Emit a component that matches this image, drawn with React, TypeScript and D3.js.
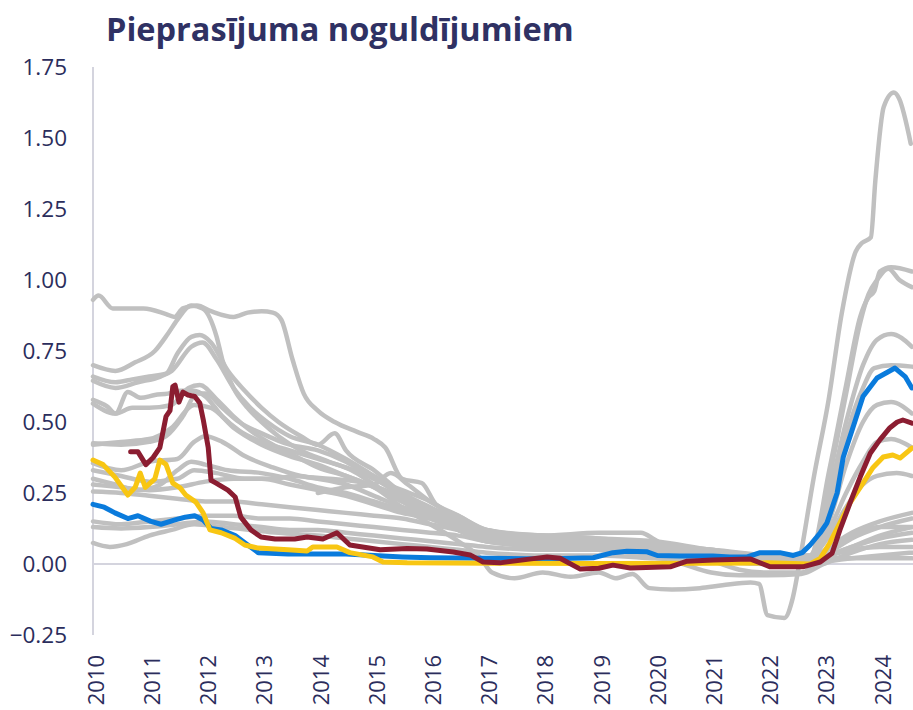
import React from "react";
import * as d3 from "d3";

type P = [number, number];

const title = "Pieprasījuma noguldījumiem";
const yearTicks = d3.range(2010, 2025);
const yTicks = [-0.25, 0, 0.25, 0.5, 0.75, 1, 1.25, 1.5, 1.75];

// highlighted series [decimal year, value]
const blueSeries: P[] = [
  [2010.0, 0.21], [2010.2, 0.2], [2010.39, 0.18], [2010.62, 0.16], [2010.8, 0.17], [2011.03, 0.15],
  [2011.21, 0.14], [2011.46, 0.155], [2011.64, 0.165], [2011.81, 0.17], [2011.96, 0.155], [2012.1, 0.125],
  [2012.28, 0.12], [2012.53, 0.1], [2012.7, 0.075], [2012.94, 0.04], [2013.47, 0.035], [2013.83, 0.035],
  [2014.5, 0.035], [2015.0, 0.03], [2015.5, 0.025], [2016.0, 0.022], [2017.0, 0.02], [2018.0, 0.018],
  [2018.9, 0.022], [2019.25, 0.04], [2019.5, 0.045], [2019.86, 0.043], [2020.04, 0.03], [2020.44, 0.028],
  [2021.03, 0.028], [2021.33, 0.025], [2021.64, 0.025], [2021.87, 0.04], [2022.22, 0.04], [2022.46, 0.03],
  [2022.62, 0.04], [2022.76, 0.067], [2022.94, 0.11], [2023.06, 0.145], [2023.24, 0.25], [2023.35, 0.377],
  [2023.52, 0.48], [2023.7, 0.59], [2023.95, 0.655], [2024.27, 0.69], [2024.45, 0.66], [2024.57, 0.62],
];

const redSeries: P[] = [
  [2010.67, 0.395], [2010.8, 0.395], [2010.94, 0.35], [2011.07, 0.375], [2011.19, 0.41], [2011.3, 0.52],
  [2011.37, 0.54], [2011.42, 0.625], [2011.46, 0.63], [2011.53, 0.57], [2011.6, 0.605], [2011.69, 0.595],
  [2011.81, 0.59], [2011.9, 0.567], [2011.96, 0.51], [2012.05, 0.41], [2012.1, 0.295], [2012.19, 0.285],
  [2012.4, 0.26], [2012.53, 0.236], [2012.63, 0.165], [2012.81, 0.12], [2012.99, 0.095], [2013.24, 0.088],
  [2013.59, 0.088], [2013.81, 0.095], [2014.09, 0.088], [2014.34, 0.11], [2014.57, 0.067], [2015.11, 0.05],
  [2015.59, 0.055], [2015.94, 0.053], [2016.41, 0.042], [2016.71, 0.032], [2016.94, 0.007], [2017.24, 0.004],
  [2017.8, 0.018], [2018.08, 0.025], [2018.31, 0.02], [2018.67, -0.018], [2019.0, -0.015], [2019.25, -0.004],
  [2019.56, -0.014], [2020.27, -0.01], [2020.57, 0.01], [2021.03, 0.014], [2021.69, 0.018], [2022.05, -0.01],
  [2022.53, -0.01], [2022.63, -0.01], [2022.94, 0.007], [2023.15, 0.038], [2023.29, 0.12], [2023.47, 0.215],
  [2023.65, 0.306], [2023.83, 0.39], [2024.0, 0.437], [2024.18, 0.48], [2024.31, 0.5], [2024.41, 0.507],
  [2024.57, 0.496],
];

const yellowSeries: P[] = [
  [2010.0, 0.366], [2010.18, 0.35], [2010.39, 0.306], [2010.62, 0.243], [2010.75, 0.27], [2010.84, 0.32],
  [2010.93, 0.27], [2011.1, 0.3], [2011.19, 0.366], [2011.3, 0.35], [2011.42, 0.285], [2011.55, 0.268],
  [2011.65, 0.243], [2011.83, 0.218], [2011.96, 0.18], [2012.08, 0.12], [2012.28, 0.11], [2012.53, 0.09],
  [2012.7, 0.067], [2012.94, 0.056], [2013.47, 0.05], [2013.81, 0.046], [2013.91, 0.06], [2014.34, 0.06],
  [2014.57, 0.04], [2014.98, 0.025], [2015.16, 0.007], [2015.59, 0.004], [2017.0, 0.003], [2019.0, 0.002],
  [2021.0, 0.003], [2022.0, 0.004], [2022.76, 0.0], [2022.94, 0.02], [2023.11, 0.074], [2023.29, 0.145],
  [2023.47, 0.215], [2023.7, 0.285], [2023.88, 0.34], [2024.06, 0.377], [2024.23, 0.384], [2024.36, 0.373],
  [2024.57, 0.408],
];

// grey comparison series
const grayA: P[] = [
  [2010.0, 0.93], [2010.1, 0.945], [2010.35, 0.9], [2010.9, 0.9], [2011.3, 0.88], [2011.45, 0.87],
  [2011.6, 0.9], [2011.85, 0.91], [2012.1, 0.89], [2012.5, 0.87], [2012.75, 0.885], [2013.0, 0.89],
  [2013.2, 0.885], [2013.35, 0.86], [2013.55, 0.72], [2013.75, 0.6], [2014.0, 0.54], [2014.3, 0.5],
  [2014.7, 0.465], [2015.0, 0.44], [2015.2, 0.41], [2015.5, 0.3], [2015.85, 0.285], [2016.1, 0.21],
  [2016.5, 0.17], [2017.0, 0.12], [2018.0, 0.1], [2019.0, 0.11], [2019.75, 0.11], [2020.0, 0.085],
  [2020.25, 0.06], [2021.0, 0.05], [2022.0, 0.03], [2022.7, 0.02], [2023.1, 0.05], [2023.5, 0.1],
  [2024.0, 0.13], [2024.57, 0.13],
];
const grayB: P[] = [
  [2010.0, 0.7], [2010.4, 0.68], [2010.75, 0.71], [2011.1, 0.75], [2011.33, 0.81], [2011.5, 0.86],
  [2011.75, 0.91], [2011.95, 0.9], [2012.2, 0.8], [2012.3, 0.72], [2012.5, 0.62], [2012.75, 0.55],
  [2013.0, 0.5], [2013.3, 0.45], [2013.7, 0.4], [2014.2, 0.36], [2014.6, 0.33], [2015.0, 0.28],
  [2015.5, 0.22], [2016.0, 0.17], [2016.5, 0.12], [2017.0, 0.08], [2018.0, 0.07], [2019.0, 0.06],
  [2020.0, 0.05], [2021.0, 0.04], [2022.0, 0.02], [2022.8, 0.02], [2023.1, 0.3], [2023.4, 0.6],
  [2023.65, 0.85], [2023.8, 0.95], [2023.95, 1.0], [2024.15, 1.04], [2024.35, 1.0], [2024.57, 0.975],
];
const grayC: P[] = [
  [2010.0, 0.66], [2010.4, 0.64], [2010.7, 0.65], [2011.0, 0.66], [2011.3, 0.67], [2011.5, 0.74],
  [2011.75, 0.8], [2011.9, 0.806], [2012.1, 0.78], [2012.4, 0.68], [2012.7, 0.61], [2013.0, 0.55],
  [2013.3, 0.5], [2013.7, 0.45], [2014.0, 0.42], [2014.3, 0.46], [2014.5, 0.4], [2015.0, 0.33],
  [2015.5, 0.25], [2016.0, 0.2], [2016.5, 0.15], [2017.0, 0.1], [2018.0, 0.08], [2019.0, 0.07],
  [2020.0, 0.06], [2021.0, 0.03], [2022.0, 0.01], [2022.75, 0.02], [2023.1, 0.33], [2023.4, 0.63],
  [2023.65, 0.87], [2023.8, 0.94], [2023.9, 0.96], [2024.0, 1.03], [2024.2, 1.045], [2024.57, 1.03],
];
const grayD: P[] = [
  [2010.0, 0.645], [2010.4, 0.62], [2010.8, 0.64], [2011.2, 0.66], [2011.4, 0.68], [2011.75, 0.765],
  [2011.95, 0.78], [2012.2, 0.72], [2012.5, 0.62], [2012.8, 0.55], [2013.1, 0.5], [2013.5, 0.45],
  [2014.0, 0.42], [2014.5, 0.37], [2015.0, 0.31], [2015.5, 0.25], [2016.0, 0.19], [2016.5, 0.14],
  [2017.0, 0.1], [2018.0, 0.09], [2019.0, 0.08], [2020.0, 0.05], [2021.0, 0.04], [2022.0, 0.03],
  [2022.75, 0.03], [2023.1, 0.25], [2023.4, 0.5], [2023.7, 0.7], [2023.95, 0.79], [2024.2, 0.81],
  [2024.57, 0.765],
];
const grayE: P[] = [
  [2010.0, 0.578], [2010.25, 0.555], [2010.4, 0.53], [2010.62, 0.606], [2010.85, 0.585], [2011.1, 0.595],
  [2011.33, 0.6], [2011.55, 0.61], [2011.8, 0.61], [2012.0, 0.59], [2012.3, 0.52], [2012.6, 0.47],
  [2013.0, 0.43], [2013.5, 0.4], [2014.0, 0.37], [2014.5, 0.34], [2015.0, 0.3], [2015.5, 0.24],
  [2016.0, 0.18], [2016.5, 0.13], [2017.0, 0.09], [2018.0, 0.08], [2019.0, 0.07], [2020.0, 0.05],
  [2021.0, 0.03], [2022.0, 0.02], [2022.75, 0.02], [2023.1, 0.2], [2023.4, 0.45], [2023.7, 0.62],
  [2023.9, 0.69], [2024.2, 0.7], [2024.57, 0.695],
];
const grayF: P[] = [
  [2010.0, 0.565], [2010.4, 0.53], [2010.7, 0.55], [2011.0, 0.55], [2011.4, 0.56], [2011.7, 0.62],
  [2011.9, 0.63], [2012.2, 0.58], [2012.5, 0.52], [2012.8, 0.47], [2013.2, 0.42], [2013.6, 0.38],
  [2014.0, 0.34], [2014.5, 0.31], [2015.0, 0.27], [2015.5, 0.22], [2016.0, 0.17], [2016.5, 0.12],
  [2017.0, 0.08], [2018.0, 0.06], [2019.0, 0.05], [2020.0, 0.04], [2021.0, 0.02], [2022.0, 0.01],
  [2022.75, 0.01], [2023.1, 0.15], [2023.4, 0.35], [2023.7, 0.5], [2023.95, 0.56], [2024.2, 0.57],
  [2024.57, 0.53],
];
const grayG: P[] = [
  [2010.0, 0.425], [2010.5, 0.42], [2011.0, 0.43], [2011.3, 0.45], [2011.6, 0.52], [2011.85, 0.6],
  [2012.0, 0.6], [2012.3, 0.55], [2012.6, 0.5], [2013.0, 0.46], [2013.5, 0.42], [2014.0, 0.4],
  [2014.5, 0.36], [2015.0, 0.3], [2015.5, 0.26], [2016.0, 0.22], [2016.5, 0.16], [2017.0, 0.11],
  [2018.0, 0.1], [2019.0, 0.09], [2020.0, 0.07], [2021.0, 0.05], [2022.0, 0.02], [2022.75, 0.02],
  [2023.1, 0.12], [2023.4, 0.25], [2023.7, 0.36], [2023.95, 0.43], [2024.2, 0.44], [2024.57, 0.41],
];
const grayH: P[] = [
  [2010.0, 0.355], [2010.5, 0.33], [2011.0, 0.36], [2011.5, 0.37], [2011.8, 0.43], [2012.0, 0.45],
  [2012.3, 0.43], [2012.7, 0.38], [2013.2, 0.34], [2013.7, 0.31], [2014.2, 0.3], [2014.7, 0.29],
  [2015.2, 0.26], [2015.6, 0.22], [2016.0, 0.19], [2016.5, 0.15], [2017.0, 0.12], [2018.0, 0.1],
  [2019.0, 0.09], [2020.0, 0.08], [2021.0, 0.05], [2022.0, 0.03], [2022.75, 0.03], [2023.1, 0.1],
  [2023.4, 0.2], [2023.7, 0.28], [2023.95, 0.31], [2024.3, 0.32], [2024.57, 0.31],
];
const grayI: P[] = [
  [2010.0, 0.33], [2010.5, 0.31], [2011.0, 0.29], [2011.5, 0.3], [2011.8, 0.33], [2012.2, 0.32],
  [2012.7, 0.3], [2013.2, 0.3], [2013.6, 0.31], [2014.0, 0.3], [2014.5, 0.28], [2015.0, 0.24],
  [2015.5, 0.2], [2016.0, 0.17], [2016.5, 0.13], [2017.0, 0.1], [2018.0, 0.08], [2019.0, 0.07],
  [2020.0, 0.06], [2021.0, 0.04], [2022.0, 0.02], [2022.75, 0.02], [2023.1, 0.06], [2023.5, 0.11],
  [2024.0, 0.15], [2024.57, 0.18],
];
const grayJ: P[] = [
  [2010.0, 0.3], [2010.4, 0.28], [2010.8, 0.26], [2011.2, 0.28], [2011.5, 0.33], [2011.75, 0.36],
  [2012.0, 0.35], [2012.4, 0.33], [2013.0, 0.32], [2013.5, 0.3], [2014.0, 0.27], [2014.5, 0.25],
  [2015.0, 0.22], [2015.5, 0.19], [2016.0, 0.16], [2016.5, 0.12], [2017.0, 0.09], [2018.0, 0.07],
  [2019.0, 0.06], [2020.0, 0.04], [2021.0, 0.03], [2022.0, 0.01], [2022.75, 0.0], [2023.1, 0.04],
  [2023.5, 0.09], [2024.0, 0.13], [2024.57, 0.16],
];
const grayK: P[] = [
  [2010.0, 0.28], [2010.5, 0.27], [2011.0, 0.26], [2011.5, 0.27], [2012.0, 0.29], [2012.5, 0.3],
  [2013.0, 0.3], [2013.5, 0.28], [2014.0, 0.26], [2014.5, 0.24], [2015.0, 0.21], [2015.5, 0.18],
  [2016.0, 0.16], [2016.5, 0.13], [2017.0, 0.1], [2018.0, 0.07], [2019.0, 0.05], [2020.0, 0.03],
  [2021.0, 0.01], [2021.5, -0.02], [2022.0, -0.03], [2022.6, -0.03], [2023.0, 0.02], [2023.5, 0.06],
  [2024.0, 0.1], [2024.57, 0.13],
];
const grayL: P[] = [
  [2010.0, 0.255], [2010.5, 0.25], [2011.0, 0.24], [2011.5, 0.23], [2012.0, 0.22], [2012.5, 0.22],
  [2013.0, 0.21], [2013.5, 0.2], [2014.0, 0.19], [2014.5, 0.18], [2015.0, 0.17], [2015.5, 0.16],
  [2016.0, 0.14], [2016.5, 0.12], [2017.0, 0.1], [2018.0, 0.08], [2019.0, 0.06], [2020.0, 0.04],
  [2021.0, 0.03], [2022.0, 0.01], [2022.75, 0.0], [2023.1, 0.03], [2023.5, 0.06], [2024.0, 0.09],
  [2024.57, 0.11],
];
const grayM: P[] = [
  [2010.0, 0.15], [2010.5, 0.14], [2011.0, 0.15], [2011.5, 0.16], [2012.0, 0.17], [2012.5, 0.17],
  [2013.0, 0.16], [2013.5, 0.16], [2014.0, 0.15], [2014.5, 0.14], [2015.0, 0.13], [2015.5, 0.12],
  [2016.0, 0.11], [2016.5, 0.1], [2017.0, 0.08], [2018.0, 0.06], [2019.0, 0.05], [2020.0, 0.03],
  [2020.5, 0.0], [2021.0, -0.03], [2021.5, -0.04], [2022.0, -0.04], [2022.6, -0.035], [2023.0, 0.0],
  [2023.5, 0.04], [2024.0, 0.07], [2024.57, 0.085],
];
const grayN: P[] = [
  [2010.0, 0.13], [2010.5, 0.125], [2011.0, 0.13], [2011.5, 0.14], [2012.0, 0.15], [2012.5, 0.14],
  [2013.0, 0.13], [2013.5, 0.12], [2014.0, 0.12], [2014.5, 0.11], [2015.0, 0.1], [2015.5, 0.09],
  [2016.0, 0.08], [2016.5, 0.07], [2017.0, 0.06], [2018.0, 0.05], [2019.0, 0.05], [2020.0, 0.04],
  [2021.0, 0.03], [2022.0, 0.02], [2022.75, 0.01], [2023.1, 0.03], [2023.5, 0.05], [2024.0, 0.06],
  [2024.57, 0.06],
];
const grayO: P[] = [
  [2010.0, 0.074], [2010.3, 0.06], [2010.6, 0.07], [2011.0, 0.1], [2011.4, 0.12], [2011.8, 0.14],
  [2012.3, 0.13], [2012.8, 0.12], [2013.3, 0.11], [2014.0, 0.1], [2014.5, 0.09], [2015.0, 0.08],
  [2015.5, 0.07], [2016.0, 0.06], [2016.5, 0.05], [2017.0, 0.04], [2018.0, 0.03], [2019.0, 0.03],
  [2020.0, 0.02], [2021.0, 0.01], [2022.0, 0.0], [2022.75, 0.0], [2023.1, 0.01], [2023.5, 0.02],
  [2024.0, 0.03], [2024.57, 0.04],
];
const grayP: P[] = [
  [2014.0, 0.25], [2014.5, 0.27], [2015.0, 0.28], [2015.3, 0.32], [2015.6, 0.28], [2016.0, 0.22],
  [2016.5, 0.17], [2017.0, 0.12], [2018.0, 0.09], [2019.0, 0.07], [2020.0, 0.05], [2021.0, 0.04],
  [2022.0, 0.02], [2022.75, 0.01], [2023.1, 0.02], [2024.0, 0.02], [2024.57, 0.02],
];
const grayT: P[] = [
  [2010.0, 0.42], [2010.5, 0.43], [2011.0, 0.44], [2011.4, 0.48], [2011.8, 0.56], [2012.1, 0.55],
  [2012.5, 0.48], [2013.0, 0.42], [2013.5, 0.38], [2014.0, 0.35], [2014.5, 0.31], [2015.0, 0.27],
  [2015.5, 0.2], [2016.0, 0.14], [2016.5, 0.08], [2016.9, 0.02], [2017.1, -0.03], [2017.5, -0.05],
  [2018.0, -0.03], [2018.5, -0.045], [2019.0, -0.03], [2019.3, -0.05], [2019.6, -0.035], [2019.9, -0.085],
  [2020.3, -0.09], [2020.8, -0.085], [2021.2, -0.075], [2021.7, -0.065], [2021.85, -0.07], [2022.0, -0.18],
  [2022.3, -0.19], [2022.45, -0.12], [2022.6, 0.04], [2022.82, 0.3], [2023.09, 0.58], [2023.32, 0.88],
  [2023.57, 1.1], [2023.68, 1.13], [2023.84, 1.15], [2023.92, 1.35], [2024.07, 1.61], [2024.25, 1.66],
  [2024.34, 1.64], [2024.55, 1.48],
];

const graySeries: P[][] = [
  grayA, grayB, grayC, grayD, grayE, grayF, grayG, grayH, grayI,
  grayJ, grayK, grayL, grayM, grayN, grayO, grayP, grayT,
];

const highlighted = [
  { data: blueSeries, color: "#0a7bdc" },
  { data: yellowSeries, color: "#f8c613" },
  { data: redSeries, color: "#8b1d31" },
];

export default function App() {
  const W = 913;
  const H = 710;
  const x = d3.scaleLinear().domain([2010, 2024.59]).range([93, 913]);
  const y = d3.scaleLinear().domain([-0.25, 1.75]).range([635, 67]);
  const fmt = d3.format(".2f");
  const grayLine = d3
    .line<P>()
    .x((d) => x(d[0]))
    .y((d) => y(d[1]))
    .curve(d3.curveMonotoneX);
  const hiLine = d3
    .line<P>()
    .x((d) => x(d[0]))
    .y((d) => y(d[1]));
  const textColor = "#2b2d5c";

  return (
    <svg
      width={W}
      height={H}
      style={{ position: "absolute", left: 0, top: 0, background: "#fff" }}
      fontFamily="'Open Sans', sans-serif"
    >
      <text x={106} y={41} fontSize={32.5} fontWeight={700} fill="#2f3163">
        {title}
      </text>
      {yTicks.map((t) => (
        <text
          key={t}
          x={67}
          y={y(t)}
          dy="0.35em"
          textAnchor="end"
          fontSize={22.5}
          fill={textColor}
        >
          {fmt(t)}
        </text>
      ))}
      <line x1={93} x2={93} y1={y(1.75)} y2={y(-0.25)} stroke="#d4d4de" strokeWidth={2} />
      <line x1={93} x2={W} y1={y(0)} y2={y(0)} stroke="#d4d4de" strokeWidth={2} />
      <g fill="none" stroke="#c0c0c0" strokeWidth={4.5} strokeLinejoin="round" strokeLinecap="round">
        {graySeries.map((s, i) => (
          <path key={i} d={grayLine(s) || ""} />
        ))}
      </g>
      <g fill="none" strokeWidth={5} strokeLinejoin="round" strokeLinecap="round">
        {highlighted.map((h, i) => (
          <path key={i} d={hiLine(h.data) || ""} stroke={h.color} />
        ))}
      </g>
      {yearTicks.map((yr) => (
        <text
          key={yr}
          transform={`translate(${x(yr) + 3},655) rotate(-90)`}
          dy="0.35em"
          textAnchor="end"
          fontSize={22}
          fill={textColor}
        >
          {yr}
        </text>
      ))}
    </svg>
  );
}
